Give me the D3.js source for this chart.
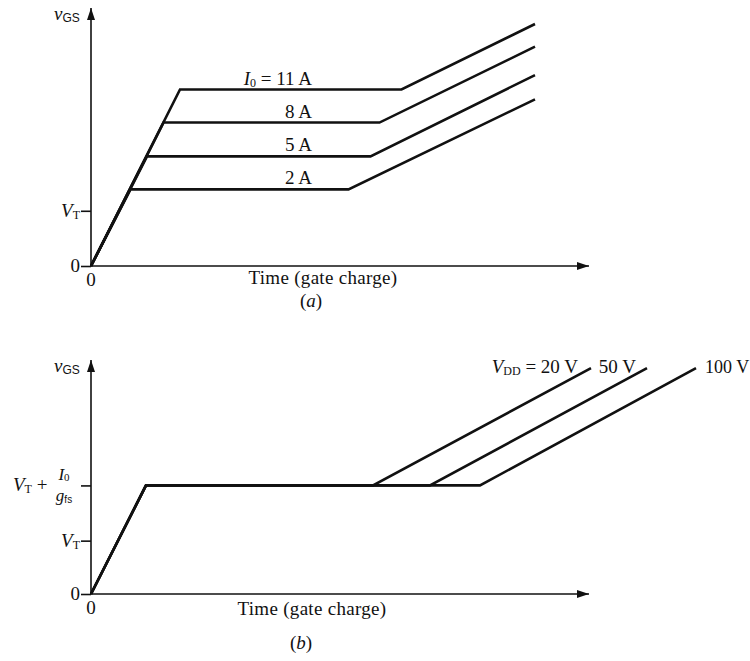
<!DOCTYPE html>
<html><head><meta charset="utf-8">
<script src="https://cdn.jsdelivr.net/npm/d3@7"></script>
<style>
body{margin:0;background:#fff}
text{font-family:"Liberation Serif","Times New Roman",serif;fill:#111}
</style>
</head><body>
<svg id="c" width="750" height="661"></svg>
<script>
// ---------- Panel (a): gate-charge curves for several drain currents ----------
const currentLabels = ["11 A", "8 A", "5 A", "2 A"];
const plateauLevelA = [6.84, 5.56, 4.25, 2.97];   // vGS plateau (arb. units)
const rampEndA      = [1.78, 1.45, 1.12, 0.79];   // time when plateau starts
const plateauEndA   = [6.21, 5.77, 5.59, 5.15];   // time when plateau ends
const finalTimeA    = [8.88, 8.88, 8.88, 8.88];
const finalLevelA   = [9.38, 8.50, 7.40, 6.46];
const thresholdA    = 2.14;

// ---------- Panel (b): gate-charge curves for several supply voltages ----------
const supplyLabels  = ["20 V", "50 V", "100 V"];
const plateauLevelB = 4.64;
const rampEndB      = 1.10;
const plateauEndB   = [5.64, 6.78, 7.78];
const finalTimeB    = [10.0, 11.12, 12.1];
const finalLevelB   = [9.65, 9.65, 9.65];
const thresholdB    = 2.28;

const svg = d3.select("#c");
const FS = 19, SUB = 12;

const defs = svg.append("defs");
defs.append("marker").attr("id","arr").attr("viewBox","0 0 12 8")
  .attr("refX",12).attr("refY",4).attr("markerWidth",12).attr("markerHeight",8)
  .attr("markerUnits","userSpaceOnUse").attr("orient","auto")
  .append("path").attr("d","M0,0L12,4L0,8Z").attr("fill","#111");

function panel(g, x, y, ticks) {
  g.append("line").attr("x1",x(0)).attr("y1",y(0)).attr("x2",x(0)).attr("y2",y(10))
    .attr("stroke","#111").attr("stroke-width",1.6).attr("marker-end","url(#arr)");
  g.append("line").attr("x1",x(0)).attr("y1",y(0)).attr("x2",x(9.96)).attr("y2",y(0))
    .attr("stroke","#111").attr("stroke-width",1.6).attr("marker-end","url(#arr)");
  const ax = d3.axisLeft(y).tickValues(ticks).tickSize(10).tickFormat("");
  const ga = g.append("g").attr("transform",`translate(${x(0)},0)`).call(ax);
  ga.select(".domain").remove();
  ga.selectAll(".tick line").attr("stroke","#111").attr("stroke-width",1.6);
  g.append("text").attr("x",x(0)-11).attr("y",y(0)+6).attr("text-anchor","end")
    .attr("font-size",FS).text("0");
  g.append("text").attr("x",x(0)).attr("y",y(0)+20).attr("text-anchor","middle")
    .attr("font-size",FS).text("0");
  const t = g.append("text").attr("x",x(0)-37).attr("y",y(10)+12).attr("font-size",FS);
  t.append("tspan").attr("font-style","italic").text("v");
  t.append("tspan").attr("font-family","Liberation Sans, Arial, sans-serif")
    .attr("font-size",SUB).attr("dy",2).text("GS");
}

function vt(g, xr, yv) {
  const t = g.append("text").attr("x",xr).attr("y",yv+6).attr("text-anchor","end").attr("font-size",FS);
  t.append("tspan").attr("font-style","italic").text("V");
  t.append("tspan").attr("font-size",SUB).attr("dy",2).text("T");
}

// ---------------- Panel (a) ----------------
const xA = d3.scaleLinear().domain([0,10]).range([91,591]);
const yA = d3.scaleLinear().domain([0,10]).range([266,8]);
const gA = svg.append("g");
panel(gA, xA, yA, [0, thresholdA]);
vt(gA, xA(0)-11, yA(thresholdA));

const lineA = d3.line().x(d=>xA(d[0])).y(d=>yA(d[1]));
currentLabels.forEach((lab,i)=>{
  const pts = [[0,0],[rampEndA[i],plateauLevelA[i]],[plateauEndA[i],plateauLevelA[i]],[finalTimeA[i],finalLevelA[i]]];
  gA.append("path").attr("d",lineA(pts)).attr("fill","none").attr("stroke","#111")
    .attr("stroke-width",2.6).attr("stroke-linejoin","miter");
  const t = gA.append("text").attr("x",xA(4.42)).attr("y",yA(plateauLevelA[i])-5)
    .attr("text-anchor","end").attr("font-size",FS);
  if (i===0) {
    t.append("tspan").attr("font-style","italic").text("I");
    t.append("tspan").attr("font-size",SUB).attr("dy",2).text("0");
    t.append("tspan").attr("dy",-2).text(" = " + lab);
  } else {
    t.text(lab);
  }
});
gA.append("text").attr("x",323).attr("y",yA(0)+18).attr("text-anchor","middle")
  .attr("font-size",FS).attr("letter-spacing",0.3).text("Time (gate charge)");
const la = gA.append("text").attr("x",311).attr("y",yA(0)+41).attr("text-anchor","middle").attr("font-size",FS);
la.append("tspan").text("(");
la.append("tspan").attr("font-style","italic").text("a");
la.append("tspan").text(")");

// ---------------- Panel (b) ----------------
const xB = d3.scaleLinear().domain([0,10]).range([91,591]);
const yB = d3.scaleLinear().domain([0,10]).range([594,360]);
const gB = svg.append("g");
panel(gB, xB, yB, [0, thresholdB, plateauLevelB]);
vt(gB, xB(0)-11, yB(thresholdB));

{
  const yp = yB(plateauLevelB);
  const t = gB.append("text").attr("x",13).attr("y",yp+6).attr("font-size",FS);
  t.append("tspan").attr("font-style","italic").text("V");
  t.append("tspan").attr("font-size",SUB).attr("dy",2).text("T");
  t.append("tspan").attr("dy",-2).text(" +");
  const fx = 64;
  const n = gB.append("text").attr("x",fx).attr("y",yp-5).attr("text-anchor","middle").attr("font-size",17);
  n.append("tspan").attr("font-style","italic").text("I");
  n.append("tspan").attr("font-size",11).attr("dy",1).text("0");
  const d = gB.append("text").attr("x",fx).attr("y",yp+16).attr("text-anchor","middle").attr("font-size",17);
  d.append("tspan").attr("font-style","italic").text("g");
  d.append("tspan").attr("font-family","Liberation Sans, Arial, sans-serif").attr("font-size",10).attr("dy",2).text("fs");
}

const lineB = d3.line().x(d=>xB(d[0])).y(d=>yB(d[1]));
supplyLabels.forEach((lab,i)=>{
  const pts = [[0,0],[rampEndB,plateauLevelB],[plateauEndB[i],plateauLevelB],[finalTimeB[i],finalLevelB[i]]];
  gB.append("path").attr("d",lineB(pts)).attr("fill","none").attr("stroke","#111")
    .attr("stroke-width",2.6).attr("stroke-linejoin","miter");
});
{
  const ly = yB(finalLevelB[0]) + 5;
  const t0 = gB.append("text").attr("x",xB(finalTimeB[0])-13).attr("y",ly).attr("text-anchor","end").attr("font-size",FS);
  t0.append("tspan").attr("font-style","italic").text("V");
  t0.append("tspan").attr("font-size",SUB).attr("dy",2).text("DD");
  t0.append("tspan").attr("dy",-2).text(" = " + supplyLabels[0]);
  gB.append("text").attr("x",xB(finalTimeB[1])-11).attr("y",ly).attr("text-anchor","end")
    .attr("font-size",FS).text(supplyLabels[1]);
  gB.append("text").attr("x",xB(finalTimeB[2])+9).attr("y",ly).attr("text-anchor","start")
    .attr("font-size",18).text(supplyLabels[2]);
}
gB.append("text").attr("x",312).attr("y",yB(0)+21).attr("text-anchor","middle")
  .attr("font-size",FS).attr("letter-spacing",0.3).text("Time (gate charge)");
const lb = gB.append("text").attr("x",301).attr("y",yB(0)+55).attr("text-anchor","middle").attr("font-size",FS);
lb.append("tspan").text("(");
lb.append("tspan").attr("font-style","italic").text("b");
lb.append("tspan").text(")");
</script>
</body></html>
